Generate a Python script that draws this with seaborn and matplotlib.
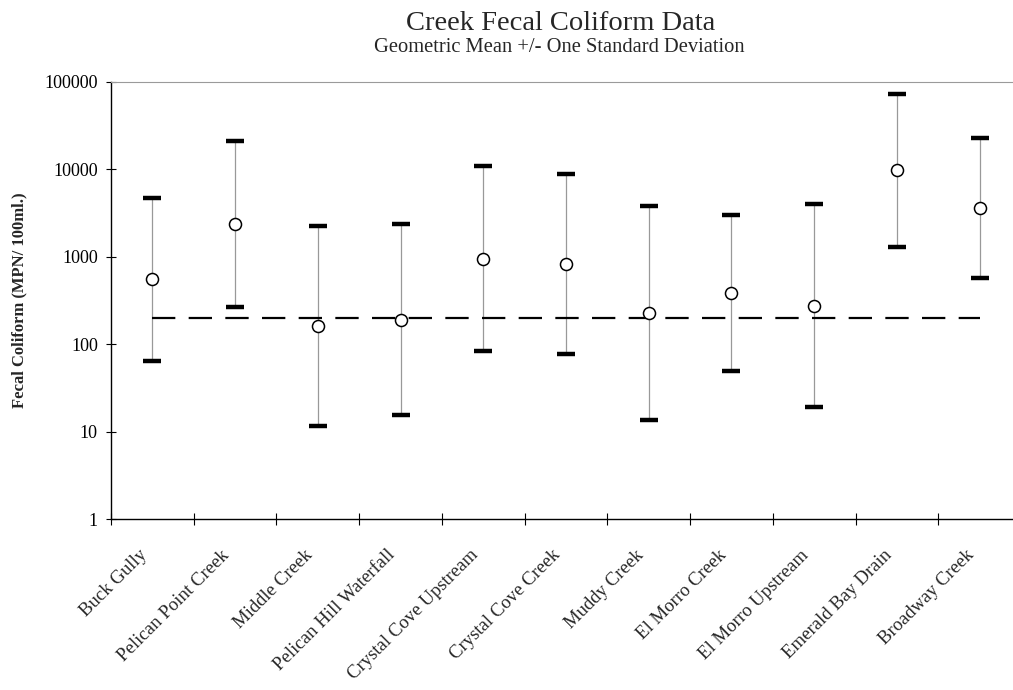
import matplotlib
matplotlib.use("Agg")
import matplotlib.pyplot as plt
import matplotlib.ticker as mticker
import matplotlib.transforms as mtransforms
import numpy as np
import pandas as pd
import seaborn as sns

# Sampling sites
sites = [
    "Buck Gully", "Pelican Point Creek", "Middle Creek", "Pelican Hill Waterfall",
    "Crystal Cove Upstream", "Crystal Cove Creek", "Muddy Creek", "El Morro Creek",
    "El Morro Upstream", "Emerald Bay Drain", "Broadway Creek",
]
# Geometric mean and the -/+ one standard deviation bounds (MPN/100 mL)
geo_mean = [557, 2370, 160, 191, 951, 828, 229, 385, 276, 9770, 3650]
lower_sd = [64, 264, 11.7, 15.4, 83.6, 76.6, 13.7, 49.4, 19.3, 1285, 572]
upper_sd = [4740, 21300, 2250, 2390, 10900, 8930, 3850, 3030, 3990, 72900, 22900]
# Water-contact standard
standard = 200
y_ticks = [1, 10, 100, 1000, 10000, 100000]

df = pd.DataFrame({"site": sites, "mean": geo_mean, "lo": lower_sd, "hi": upper_sd})
df["pos"] = np.arange(len(df))

sns.set_theme(style="white")
plt.rcParams["font.family"] = ["Liberation Serif", "DejaVu Serif"]

fig = plt.figure(figsize=(10.13, 6.9), dpi=100)
ax = fig.add_axes([0.1096, 0.2478, 0.8983, 0.6334])
ax.set_yscale("log")

# Spread lines between the bounds
ax.vlines(df["pos"], df["lo"], df["hi"], color="#999999", linewidth=0.9, zorder=1)

# Heavy caps at the bounds
for pos, lo, hi in zip(df["pos"], df["lo"], df["hi"]):
    ax.plot([pos, pos], [lo, hi], linestyle="none", marker="_",
            markersize=13, markeredgewidth=3.2, color="black", zorder=3)

# Reference standard across the sites
ax.plot([df["pos"].iloc[0], df["pos"].iloc[-1]], [standard, standard],
        color="black", linewidth=1.6, dashes=(10.5, 6.0), zorder=2)

# Geometric means
sns.scatterplot(data=df, x="pos", y="mean", ax=ax, marker="o", s=75,
                facecolor="white", edgecolor="black", linewidth=1.1, zorder=4,
                legend=False)

ax.set_xlim(-0.5, len(sites) - 0.5)
ax.set_ylim(1, 100000)

ax.yaxis.set_major_locator(mticker.FixedLocator(y_ticks))
ax.yaxis.set_major_formatter(mticker.FixedFormatter([str(v) for v in y_ticks]))
ax.yaxis.set_minor_locator(mticker.NullLocator())
ax.tick_params(axis="y", which="major", direction="inout", length=7, width=0.8,
               labelsize=13, left=True, pad=6, colors="black")

ax.set_xticks(df["pos"])
ax.set_xticks(np.arange(len(sites)) - 0.5, minor=True)
ax.tick_params(axis="x", which="major", length=0, pad=14)
ax.tick_params(axis="x", which="minor", direction="inout", length=9, width=0.8,
               bottom=True, color="black")
ax.set_xticklabels(sites, rotation=45, ha="right", va="top",
                   rotation_mode="anchor", fontsize=13.5)

ax.set_xlabel("")
ax.set_ylabel("Fecal Coliform (MPN/ 100ml.)", fontsize=12, fontweight="bold",
              labelpad=12)

for side in ["left", "bottom"]:
    ax.spines[side].set_color("black")
    ax.spines[side].set_linewidth(1.0)
ax.spines["top"].set_color("#9a9a9a")
ax.spines["top"].set_linewidth(0.8)
ax.spines["right"].set_visible(False)

fig.text(0.553, 0.966, "Creek Fecal Coliform Data", ha="center", va="center",
         fontsize=20.5)
fig.text(0.552, 0.931, "Geometric Mean +/- One Standard Deviation",
         ha="center", va="center", fontsize=14.8)

# Nudge the slanted site names so they end just left of each site
shift = mtransforms.ScaledTranslation(-0.14, -0.08, fig.dpi_scale_trans)
for lbl in ax.get_xticklabels():
    lbl.set_transform(lbl.get_transform() + shift)

fig.savefig("out.png", dpi=100, facecolor="white")
